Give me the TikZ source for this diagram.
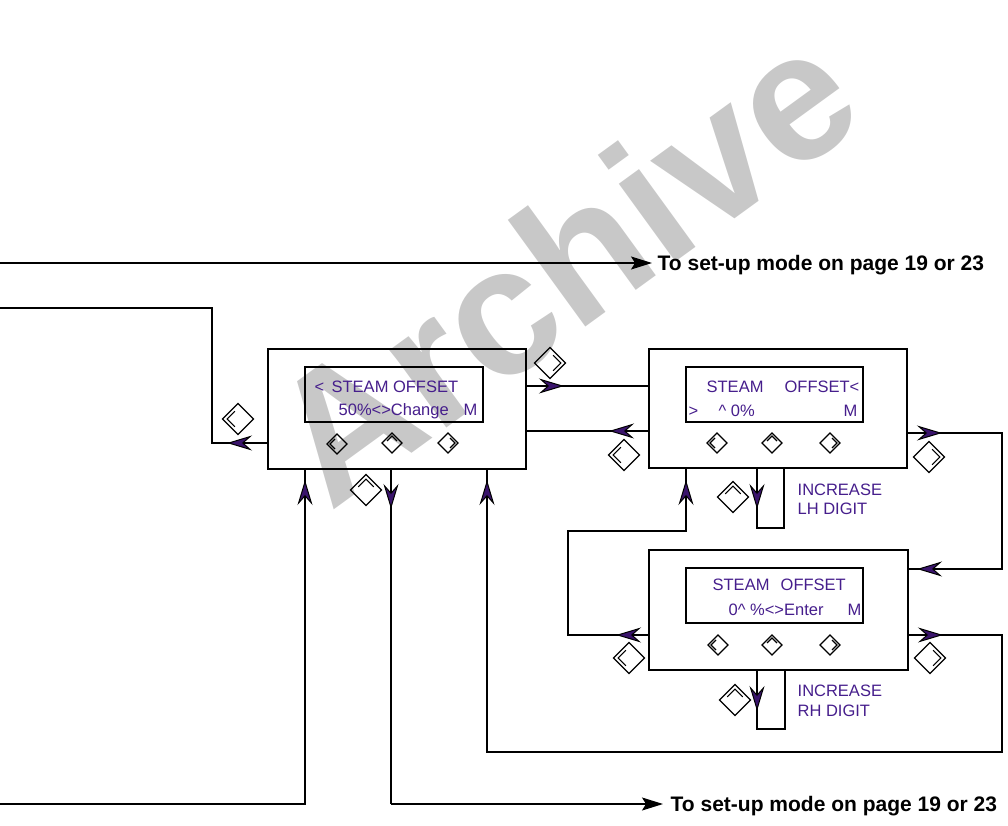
\documentclass[tikz,border=0pt]{standalone}
\usepackage{fontspec}
\setmainfont{Liberation Sans}
\usetikzlibrary{arrows.meta,calc}
\definecolor{lcd}{RGB}{70,30,140}
\definecolor{afill}{RGB}{58,20,108}
\definecolor{wm}{RGB}{200,200,200}
\begin{document}
\begin{tikzpicture}[x=1pt,y=-1pt, line width=1.3pt,
  box/.style={draw, rectangle, anchor=north west, inner sep=0pt, outer sep=0pt},
  lcdtxt/.style={text=lcd, font=\fontsize{16.5}{18}\selectfont, inner sep=0pt, anchor=base west},
  bigtxt/.style={font=\fontsize{21}{24}\selectfont\bfseries, inner sep=0pt, anchor=base west},
  parrow/.style={-{Stealth[length=25pt,width=15pt,inset=8.5pt,fill=afill]}, line width=1pt},
  karrow/.style={-{Stealth[length=21pt,width=13pt,inset=4pt]}, line width=1.2pt},
  pics/btn/.style={code={
    \draw[line width=1.2pt] (-#1,0)--(0,-#1)--(#1,0)--(0,#1)--cycle;
    \draw[line width=1.1pt] ({-0.2*#1},{-0.5*#1})--({-0.7*#1},0)--({-0.2*#1},{0.5*#1});
  }}
]
\useasboundingbox (0,0) rectangle (1008,826);
% watermark
\node[rotate=36, text=wm, font=\fontsize{182}{182}\selectfont\bfseries, inner sep=0pt] (wmk) at (562,264) {Archive};

% boxes
\node[box, minimum width=258pt, minimum height=120pt] (b1) at (268,349) {};
\node[box, minimum width=178pt, minimum height=55pt] (l1) at (305,367) {};
\node[box, minimum width=258pt, minimum height=119pt] (b2) at (649,349) {};
\node[box, minimum width=177pt, minimum height=55pt] (l2) at (686,367) {};
\node[box, minimum width=259pt, minimum height=120pt] (b3) at (649,550) {};
\node[box, minimum width=177pt, minimum height=55pt] (l3) at (686,568) {};

% LCD texts
\node[lcdtxt] (t1a) at (314,392) {<};
\node[lcdtxt] (t1b) at (331,392) {STEAM OFFSET};
\node[lcdtxt] (t1c) at (338,415) {50\%<>Change};
\node[lcdtxt, anchor=base east] (t1d) at (478,415) {M};
\node[lcdtxt] (t2a) at (706,392) {STEAM};
\node[lcdtxt, anchor=base east] (t2b) at (860,392) {OFFSET<};
\node[lcdtxt] (t2c) at (688,416) {>};
\node[lcdtxt] (t2d) at (718,416) {\textasciicircum\ 0\%};
\node[lcdtxt, anchor=base east] (t2e) at (858,416) {M};
\node[lcdtxt] (t3a) at (712,590) {STEAM};
\node[lcdtxt] (t3b) at (780,590) {OFFSET};
\node[lcdtxt] (t3c) at (728,615) {0\textasciicircum\ \%<>Enter};
\node[lcdtxt, anchor=base east] (t3d) at (862,615) {M};
\node[lcdtxt] (i1) at (797,495) {INCREASE};
\node[lcdtxt] (i2) at (797,514) {LH DIGIT};
\node[lcdtxt] (i3) at (797,696) {INCREASE};
\node[lcdtxt] (i4) at (797,716) {RH DIGIT};

% panel buttons
\pic at (337,444) {btn=10};
\pic[rotate=-90] at (392,443) {btn=10};
\pic[rotate=180] at (448,443) {btn=10};
\pic at (717,443) {btn=10};
\pic[rotate=-90] at (772,443) {btn=10};
\pic[rotate=180] at (830,443) {btn=10};
\pic at (718,645) {btn=10};
\pic[rotate=-90] at (772,645) {btn=10};
\pic[rotate=180] at (830,645) {btn=10};
% big buttons
\pic at (238,419) {btn=15.5};
\pic[rotate=-90] at (366,490) {btn=15.5};
\pic[rotate=180] at (550,363) {btn=15.5};
\pic at (624,455) {btn=15.5};
\pic[rotate=-90] at (733,497) {btn=15.5};
\pic[rotate=180] at (929,457) {btn=15.5};
\pic at (629,658) {btn=15.5};
\pic[rotate=-90] at (735,700) {btn=15.5};
\pic[rotate=180] at (930,658) {btn=15.5};

% top exit
\coordinate (top0) at (0,263);
\node[bigtxt] (ex1) at (657,270) {To set-up mode on page 19 or 23};
\coordinate (tip1) at ($(ex1.west |- top0)+(-5,0)$);
\draw[karrow] (top0) -- (tip1);
% left loop
\draw (b1.west |- 0,443) -- (212,443) -- (212,308) -- (0,308);
\draw[parrow] (252,443) -- (227,443);
% b1 <-> b2
\draw (b1.east |- 0,386) -- (b2.west |- 0,386);
\draw[parrow] (539,386) -- (564,386);
\draw (b2.west |- 0,431) -- (b1.east |- 0,431);
\draw[parrow] (634,431) -- (609,431);
% b2 right loop to b3
\draw (b2.east |- 0,433) -- (1002,433) -- (1002,569) -- (b3.east |- 0,569);
\draw[parrow] (917,433) -- (942,433);
\draw[parrow] (942,569) -- (917,569);
% LH loop
\draw (757,468) -- (757,528) -- (784,528) -- (784,468);
\draw[parrow] (757,484) -- (757,509);
% b3 left loop to b2
\draw (b3.west |- 0,635) -- (568,635) -- (568,531) -- (686,531) -- (686,468);
\draw[parrow] (641,635) -- (616,635);
\draw[parrow] (686,505) -- (686,480);
% b3 right loop to b1
\draw (b3.east |- 0,635) -- (1002,635) -- (1002,752) -- (487,752) -- (487,469);
\draw[parrow] (918,635) -- (943,635);
\draw[parrow] (487,505) -- (487,480);
% RH loop
\draw (757,670) -- (757,729) -- (785,729) -- (785,670);
\draw[parrow] (757,686) -- (757,711);
% bottom
\draw (0,804) -- (305,804) -- (305,469);
\draw[parrow] (305,505) -- (305,480);
\node[bigtxt] (ex2) at (670,811) {To set-up mode on page 19 or 23};
\coordinate (tip2) at ($(ex2.west |- 0,804)+(-7,0)$);
\draw (391,469) -- (391,804);
\draw[karrow] (391,804) -- (tip2);
\draw[parrow] (391,484) -- (391,509);
\end{tikzpicture}
\end{document}
